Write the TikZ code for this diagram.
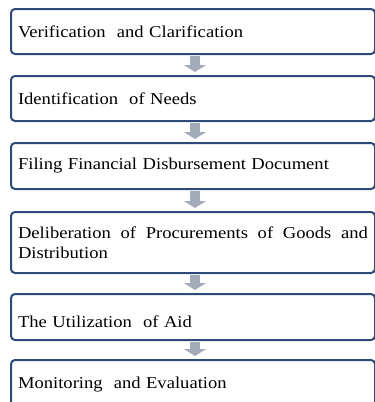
\documentclass[tikz,border=0pt]{standalone}
\usepackage{fontspec}
\setmainfont[FakeStretch=1.12]{Liberation Serif}
\usetikzlibrary{arrows.meta}
\definecolor{boxline}{HTML}{2E4A78}
\definecolor{arrowgray}{HTML}{A3ABB9}
\newcommand\myboxfont{\fontsize{16.6}{20}\selectfont\hyphenpenalty=10000 \exhyphenpenalty=10000 }
\tikzset{
  stepbox/.style={draw=boxline, line width=2pt, rounded corners=4pt, fill=white,
    anchor=north west, minimum width=364pt, text width=350pt, inner xsep=7pt,
    align=left, font=\myboxfont},
  flowarrow/.style={draw=arrowgray, line width=10pt,
    -{Triangle[width=22pt,length=7pt]}, shorten >=3pt, shorten <=1pt}
}
\begin{document}
\begin{tikzpicture}[x=1pt,y=-1pt]
\useasboundingbox (0,0) rectangle (375,402);
\node[stepbox, minimum height=45pt] (b1) at (10,8) {Verification\ \ and Clarification};
\node[stepbox, minimum height=45pt] (b2) at (10,75) {Identification\ \ of Needs};
\node[stepbox, minimum height=46pt] (b3) at (10,142) {Filing Financial Disbursement Document};
\node[stepbox, minimum height=61pt, align=justify] (b4) at (10,211) {Deliberation of Procurements of Goods and Distribution};
\node[stepbox, minimum height=46pt, text height=21pt] (b5) at (10,293) {The Utilization\ \ of Aid};
\node[stepbox, minimum height=60pt, text depth=14pt] (b6) at (10,359) {Monitoring\ \ and Evaluation};
\draw[flowarrow] ([xshift=2pt]b1.south) -- ([xshift=2pt]b2.north);
\draw[flowarrow] ([xshift=2pt]b2.south) -- ([xshift=2pt]b3.north);
\draw[flowarrow] ([xshift=2pt]b3.south) -- ([xshift=2pt]b4.north);
\draw[flowarrow] ([xshift=2pt]b4.south) -- ([xshift=2pt]b5.north);
\draw[flowarrow] ([xshift=2pt]b5.south) -- ([xshift=2pt]b6.north);
\end{tikzpicture}
\end{document}
